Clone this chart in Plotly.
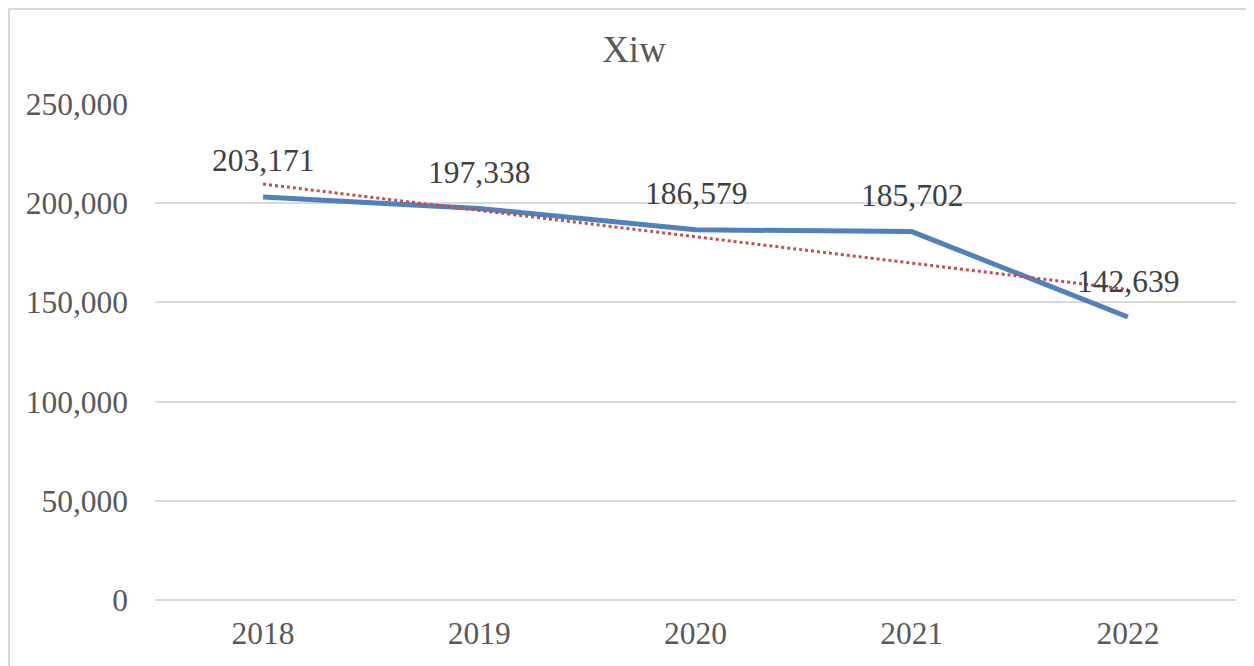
import plotly.graph_objects as go
import numpy as np

years = ["2018", "2019", "2020", "2021", "2022"]
values = [203171, 197338, 186579, 185702, 142639]
y_ticks = [0, 50000, 100000, 150000, 200000, 250000]
y_tick_labels = ["0", "50,000", "100,000", "150,000", "200,000", "250,000"]

# linear trendline from the data (as Excel computes it)
xi = np.arange(len(values))
slope, intercept = np.polyfit(xi, values, 1)
trend = slope * xi + intercept

FONT = "Liberation Serif, Times New Roman, serif"

W, H = 1246, 658
L, R, T, B = 147, 18, 96, 66
PW, PH = W - L - R, H - T - B

fig = go.Figure()
fig.add_trace(go.Scatter(
    x=years, y=values, mode="lines",
    line=dict(color="#4F81BD", width=5),
    showlegend=False, hoverinfo="skip",
))
fig.add_trace(go.Scatter(
    x=years, y=trend, mode="lines",
    line=dict(color="#C0504D", width=3, dash="dot"),
    showlegend=False, hoverinfo="skip",
))

for i, v in enumerate(values):
    fig.add_annotation(
        x=i, y=v, xref="x", yref="y", text=f"{v:,}",
        showarrow=False, yshift=36,
        font=dict(family=FONT, size=31.5, color="#404040"),
    )

fig.update_layout(
    width=W, height=H,
    margin=dict(l=L, r=R, t=T, b=B),
    paper_bgcolor="white", plot_bgcolor="white",
    title=dict(text="Xiw", x=626 / W, xanchor="center", xref="container",
               y=1 - 41 / H, yanchor="middle", yref="container",
               font=dict(family=FONT, size=37, color="#595959")),
    xaxis=dict(
        type="category", range=[-0.5, 4.5],
        showgrid=False, showline=False, zeroline=False,
        ticks="", ticklabelstandoff=11,
        tickfont=dict(family=FONT, size=31.5, color="#595959"),
    ),
    yaxis=dict(
        range=[0, 250000], tickvals=y_ticks, ticktext=y_tick_labels,
        showgrid=True, gridcolor="#D9D9D9", gridwidth=2,
        zeroline=True, zerolinecolor="#D9D9D9", zerolinewidth=2,
        showline=False, ticks="", ticklabelstandoff=26,
        tickfont=dict(family=FONT, size=31.5, color="#595959"),
    ),
    shapes=[dict(type="rect", xref="paper", yref="paper",
                 x0=-(L - 1) / PW, x1=1 + 11 / PW, y0=-(B + 20) / PH, y1=1 + (T - 1) / PH,
                 line=dict(color="#D9D9D9", width=2), fillcolor="rgba(0,0,0,0)",
                 layer="below")],
)

fig.write_html("out.html")
